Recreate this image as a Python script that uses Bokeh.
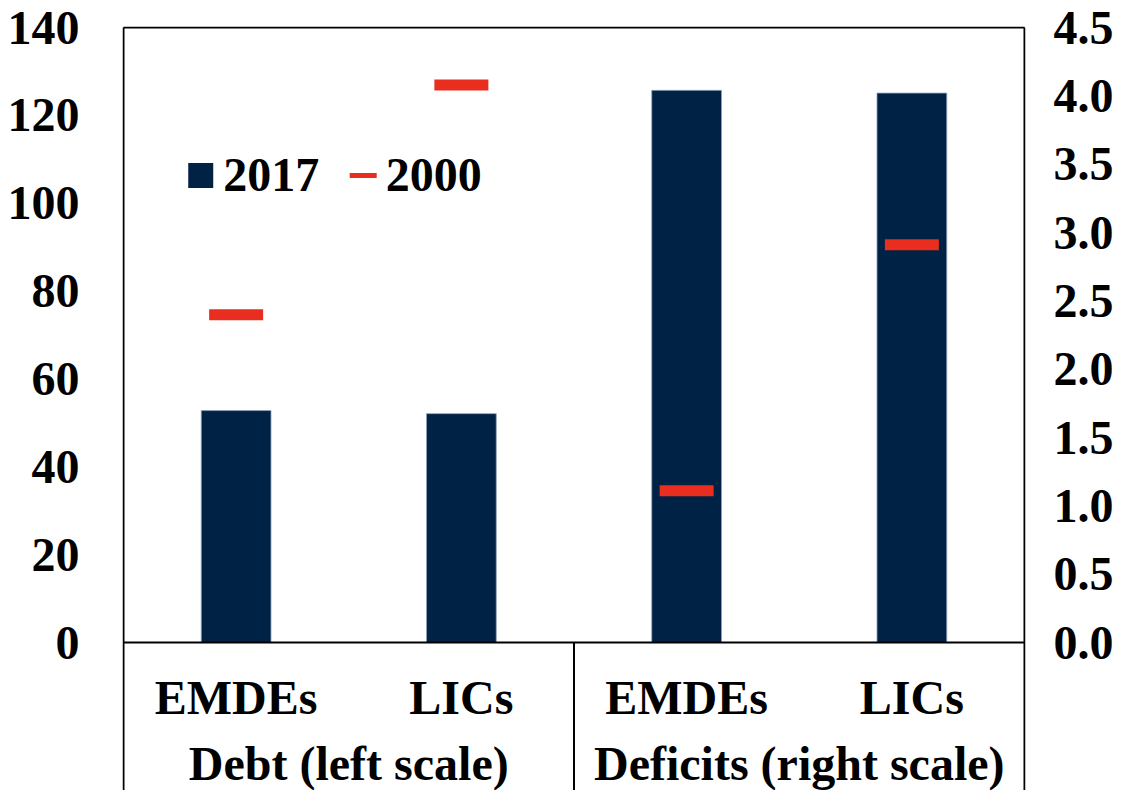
from bokeh.plotting import figure
from bokeh.models import Range1d, LinearAxis, FixedTicker, PrintfTickFormatter
from bokeh.core.properties import value
from bokeh.embed import file_html
from bokeh.resources import INLINE

# ---- data ----
groups = ["Debt (left scale)", "Deficits (right scale)"]
categories = ["EMDEs", "LICs"]
debt_2017 = [52.8, 52.1]
debt_2000 = [74.6, 126.9]
deficit_2017 = [4.04, 4.02]
deficit_2000 = [1.11, 2.91]
left_ticks = [0, 20, 40, 60, 80, 100, 120, 140]
right_ticks = [0.0, 0.5, 1.0, 1.5, 2.0, 2.5, 3.0, 3.5, 4.0, 4.5]
legend_labels = ["2017", "2000"]

NAVY = "#002345"
RED = "#E92E20"
FONT = "Liberation Serif"
FS = "48px"

# ---- geometry (screen px) ----
W, H = 1116, 790
X0, X4 = 123.0, 1027.0          # screen x of category 0 and 4
Y140, Y0 = 27.0, 642.0          # screen y of 140 and 0
px_x = (X4 - X0) / 4.0
px_left = (Y0 - Y140) / 140.0
px_right = (Y0 - Y140) / 4.5
below = H - Y0
TXT_SHIFT = 16.0                # text glyph baseline correction (px)

x_range = Range1d(-1.0 / px_x, 4 + 1.0 / px_x)
y_range = Range1d(-below / px_left, 140 + 1.0 / px_left)
r_range = Range1d(-below / px_right, 4.5 + 1.0 / px_right)

p = figure(width=W, height=H, x_range=x_range, y_range=y_range,
           x_axis_location=None, y_axis_location=None,
           output_backend="svg", toolbar_location=None,
           min_border_left=int(X0 - 1), min_border_right=int(W - X4 - 1),
           min_border_top=int(Y140 - 1), min_border_bottom=0)
p.extra_y_ranges = {"right": r_range}
p.outline_line_color = None
p.grid.visible = False
p.background_fill_color = "white"
p.border_fill_color = "white"

def style_axis(ax, standoff):
    ax.axis_line_color = None
    ax.major_tick_line_color = None
    ax.minor_tick_line_color = None
    ax.major_tick_out = 0
    ax.major_tick_in = 0
    ax.major_label_standoff = standoff
    ax.major_label_text_font = FONT
    ax.major_label_text_font_style = "bold"
    ax.major_label_text_font_size = FS
    ax.major_label_text_color = "black"

left_ax = LinearAxis(ticker=FixedTicker(ticks=left_ticks))
style_axis(left_ax, 43)
p.add_layout(left_ax, "left")

right_ax = LinearAxis(y_range_name="right", ticker=FixedTicker(ticks=right_ticks),
                      formatter=PrintfTickFormatter(format="%.1f"))
style_axis(right_ax, 28)
p.add_layout(right_ax, "right")

# ---- bars & markers ----
n = len(categories)
x_debt = [i + 0.5 for i in range(n)]
x_def = [n + i + 0.5 for i in range(n)]
bar_w = 70.0 / px_x

p.vbar(x=x_debt, top=debt_2017, bottom=0, width=bar_w, fill_color=NAVY,
       line_color="#8FA2B8", line_width=0.8)
p.vbar(x=x_def, top=deficit_2017, bottom=0, width=bar_w, fill_color=NAVY,
       line_color="#8FA2B8", line_width=0.8, y_range_name="right")

p.scatter(x=x_debt, y=debt_2000, marker="dash", size=54, line_width=11,
          line_color=RED)
p.scatter(x=x_def, y=deficit_2000, marker="dash", size=54, line_width=11,
          line_color=RED, y_range_name="right")

# ---- frame lines ----
yb = y_range.start
p.segment(x0=[0, 0, 4, 0, 2], y0=[140, yb, yb, 0, yb],
          x1=[4, 0, 4, 4, 2], y1=[140, 140, 140, 0, 0],
          line_color="black", line_width=2)

# ---- category labels ----
def sy(screen_y):
    return (Y0 - (screen_y - TXT_SHIFT)) / px_left

cat_y = sy(713)
grp_y = sy(779)
p.text(x=x_debt + x_def, y=[cat_y] * (2 * n), text=categories + categories,
       text_font=value(FONT), text_font_style="bold", text_font_size=FS,
       text_align="center", text_baseline="alphabetic", text_color="black")
p.text(x=[1, 3], y=[grp_y, grp_y], text=groups,
       text_font=value(FONT), text_font_style="bold", text_font_size=FS,
       text_align="center", text_baseline="alphabetic", text_color="black")

# ---- legend (manual) ----
leg_y = (Y0 - 175) / px_left
leg_base = sy(190)
p.scatter(x=[(200.5 - X0) / px_x], y=[leg_y], marker="square", size=25,
          fill_color=NAVY, line_color=None)
p.scatter(x=[(363.5 - X0) / px_x], y=[leg_y], marker="dash", size=27,
          line_width=5, line_color=RED)
p.text(x=[(223 - X0) / px_x, (386 - X0) / px_x], y=[leg_base, leg_base],
       text=legend_labels, text_font=value(FONT), text_font_style="bold",
       text_font_size=FS, text_align="left", text_baseline="alphabetic",
       text_color="black")

open("out.html", "w").write(file_html(p, INLINE))
